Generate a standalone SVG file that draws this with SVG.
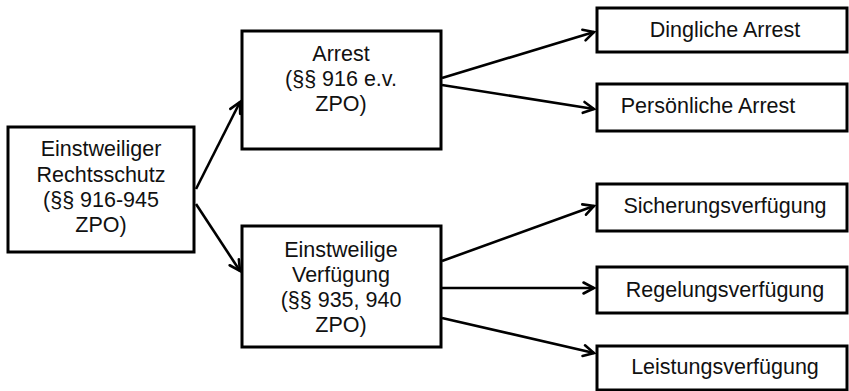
<svg xmlns="http://www.w3.org/2000/svg" width="849" height="391" viewBox="0 0 849 391">
<style>
.box{fill:#fff;stroke:#000;stroke-width:3}
.t{font-family:"Liberation Sans",Arial,sans-serif;font-size:21.5px;fill:#111;text-anchor:middle}
.c{stroke:#000;stroke-width:2.6;fill:none;marker-end:url(#arr)}
</style>
<defs>
<marker id="arr" markerUnits="userSpaceOnUse" viewBox="0 0 14 14" markerWidth="14" markerHeight="14" refX="12" refY="7" orient="auto" overflow="visible">
<path d="M1.5,1.5 L12,7 L1.5,12.5" fill="none" stroke="#000" stroke-width="2.6" stroke-linecap="round" stroke-linejoin="miter"/>
</marker>
</defs>
<rect width="849" height="391" fill="#fff"/>
<g id="connectors">
<line class="c" x1="196" y1="189" x2="240" y2="102"/>
<line class="c" x1="196" y1="204" x2="240" y2="271"/>
<line class="c" x1="442" y1="78" x2="594" y2="32"/>
<line class="c" x1="442" y1="85" x2="594" y2="109"/>
<line class="c" x1="442" y1="261" x2="594" y2="206"/>
<line class="c" x1="442" y1="288" x2="594" y2="288"/>
<line class="c" x1="442" y1="318" x2="594" y2="353"/>
</g>
<g id="n-einstweiliger-rechtsschutz">
<rect class="box" x="8" y="127" width="186" height="125"/>
<text class="t" x="101" y="156">Einstweiliger</text>
<text class="t" x="101" y="182">Rechtsschutz</text>
<text class="t" x="101" y="207">(§§ 916-945</text>
<text class="t" x="101" y="232">ZPO)</text>
</g>
<g id="n-arrest">
<rect class="box" x="242" y="31" width="199" height="118"/>
<text class="t" x="341" y="61">Arrest</text>
<text class="t" x="341" y="86">(§§ 916 e.v.</text>
<text class="t" x="341" y="111">ZPO)</text>
</g>
<g id="n-einstweilige-verfuegung">
<rect class="box" x="242" y="226" width="199" height="121"/>
<text class="t" x="341" y="257">Einstweilige</text>
<text class="t" x="341" y="282">Verfügung</text>
<text class="t" x="341" y="307">(§§ 935, 940</text>
<text class="t" x="341" y="332">ZPO)</text>
</g>
<g id="n-dingliche-arrest">
<rect class="box" x="597" y="8" width="250" height="44"/>
<text class="t" x="725" y="37">Dingliche Arrest</text>
</g>
<g id="n-persoenliche-arrest">
<rect class="box" x="597" y="84" width="250" height="47"/>
<text class="t" x="708" y="113">Persönliche Arrest</text>
</g>
<g id="n-sicherungsverfuegung">
<rect class="box" x="597" y="184" width="250" height="47"/>
<text class="t" x="725" y="213">Sicherungsverfügung</text>
</g>
<g id="n-regelungsverfuegung">
<rect class="box" x="597" y="267" width="250" height="46"/>
<text class="t" x="725" y="297">Regelungsverfügung</text>
</g>
<g id="n-leistungsverfuegung">
<rect class="box" x="597" y="346" width="250" height="44"/>
<text class="t" x="725" y="374">Leistungsverfügung</text>
</g>
</svg>
